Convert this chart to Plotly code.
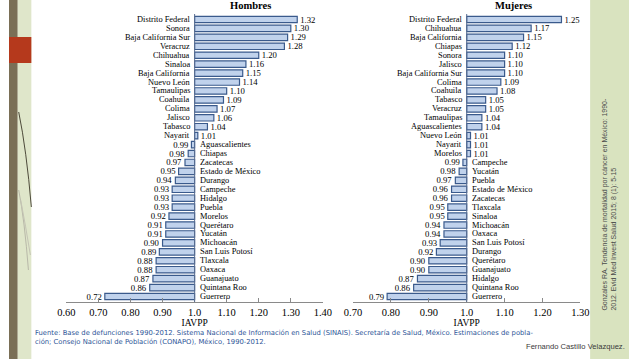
import plotly.graph_objects as go

# ---------------- data ----------------
hombres_estados = ["Distrito Federal", "Sonora", "Baja California Sur", "Veracruz", "Chihuahua",
                   "Sinaloa", "Baja California", "Nuevo León", "Tamaulipas", "Coahuila", "Colima",
                   "Jalisco", "Tabasco", "Nayarit", "Aguascalientes", "Chiapas", "Zacatecas",
                   "Estado de México", "Durango", "Campeche", "Hidalgo", "Puebla", "Morelos",
                   "Querétaro", "Yucatán", "Michoacán", "San Luis Potosí", "Tlaxcala", "Oaxaca",
                   "Guanajuato", "Quintana Roo", "Guerrero"]
hombres_iavpp = [1.32, 1.30, 1.29, 1.28, 1.20, 1.16, 1.15, 1.14, 1.10, 1.09, 1.07, 1.06, 1.04, 1.01,
                 0.99, 0.98, 0.97, 0.95, 0.94, 0.93, 0.93, 0.93, 0.92, 0.91, 0.91, 0.90, 0.89, 0.88,
                 0.88, 0.87, 0.86, 0.72]

mujeres_estados = ["Distrito Federal", "Chihuahua", "Baja California", "Chiapas", "Sonora", "Jalisco",
                   "Baja California Sur", "Colima", "Coahuila", "Tabasco", "Veracruz", "Tamaulipas",
                   "Aguascalientes", "Nuevo León", "Nayarit", "Morelos", "Campeche", "Yucatán",
                   "Puebla", "Estado de México", "Zacatecas", "Tlaxcala", "Sinaloa", "Michoacán",
                   "Oaxaca", "San Luis Potosí", "Durango", "Querétaro", "Guanajuato", "Hidalgo",
                   "Quintana Roo", "Guerrero"]
mujeres_iavpp = [1.25, 1.17, 1.15, 1.12, 1.10, 1.10, 1.10, 1.09, 1.08, 1.05, 1.05, 1.04, 1.04, 1.01,
                 1.01, 1.01, 0.99, 0.98, 0.97, 0.96, 0.96, 0.95, 0.95, 0.94, 0.94, 0.93, 0.92, 0.90,
                 0.90, 0.87, 0.86, 0.79]

hombres_ticks = [0.60, 0.70, 0.80, 0.90, 1.0, 1.10, 1.20, 1.30, 1.40]
hombres_ticktext = ["0.60", "0.70", "0.80", "0.90", "1.0", "1.10", "1.20", "1.30", "1.40"]
mujeres_ticks = [0.70, 0.80, 0.90, 1.0, 1.10, 1.20, 1.30]
mujeres_ticktext = ["0.70", "0.80", "0.90", "1.0", "1.10", "1.20", "1.30"]

BASE = 1.0
W, H = 638, 359

SERIF = "Liberation Serif"
BAR_FILL = "#c0d2ec"
BAR_LINE = "#3a5a8c"
TXT = "#000000"
LABEL_SIZE = 8.4


def px(x):
    return x / W


def py(y):
    return 1 - y / H


fig = go.Figure()

panels = [
    (hombres_estados, hombres_iavpp, "x", "y"),
    (mujeres_estados, mujeres_iavpp, "x2", "y2"),
]

annotations = []
for estados, vals, xa, ya in panels:
    fig.add_trace(go.Bar(
        y=estados,
        x=[v - BASE for v in vals],
        base=BASE,
        orientation="h",
        xaxis=xa, yaxis=ya,
        marker=dict(color=BAR_FILL, line=dict(color=BAR_LINE, width=1.2)),
        text=[f"{v:.2f}" for v in vals],
        textposition="outside",
        constraintext="none",
        cliponaxis=False,
        textfont=dict(family=SERIF, size=LABEL_SIZE + 0.3, color=TXT),
        showlegend=False,
        hoverinfo="skip",
    ))
    for e, v in zip(estados, vals):
        right = v >= BASE
        annotations.append(dict(
            x=BASE, y=e, xref=xa, yref=ya,
            text=e, showarrow=False,
            xanchor="right" if right else "left",
            xshift=-4 if right else 4,
            borderpad=0,
            font=dict(family=SERIF, size=LABEL_SIZE, color=TXT),
        ))

ydom = [py(302), py(14)]
axis_common = dict(
    showgrid=False, zeroline=False, showline=True, linecolor="#8a8a8a", linewidth=1,
    ticks="inside", ticklen=4, tickcolor="#8a8a8a",
    tickfont=dict(family=SERIF, size=10.5, color=TXT),
    title_font=dict(family=SERIF, size=9.5, color=TXT),
    title_standoff=1,
)
fig.update_layout(
    width=W, height=H, autosize=False,
    margin=dict(l=0, r=0, t=0, b=0),
    paper_bgcolor="white", plot_bgcolor="rgba(0,0,0,0)",
    bargap=0.28,
    xaxis=dict(domain=[px(59), px(323)], range=[0.6, 1.4], tickvals=hombres_ticks,
               ticktext=hombres_ticktext, title_text="IAVPP", anchor="y", **axis_common),
    yaxis=dict(domain=ydom, type="category", categoryorder="array", categoryarray=hombres_estados,
               autorange="reversed", showticklabels=False, showgrid=False, zeroline=False,
               showline=False, anchor="x"),
    xaxis2=dict(domain=[px(354), px(588)], range=[0.7, 1.3], tickvals=mujeres_ticks,
                ticktext=mujeres_ticktext, title_text="IAVPP", anchor="y2", **axis_common),
    yaxis2=dict(domain=ydom, type="category", categoryorder="array", categoryarray=mujeres_estados,
                autorange="reversed", showticklabels=False, showgrid=False, zeroline=False,
                showline=False, anchor="x2"),
)

# titles
annotations.append(dict(x=px(249), y=py(6), xref="paper", yref="paper", xanchor="center",
                        yanchor="middle", text="<b>Hombres</b>",
                        showarrow=False, font=dict(family=SERIF, size=10.5, color=TXT)))
annotations.append(dict(x=px(519), y=py(6), xref="paper", yref="paper", xanchor="center",
                        yanchor="middle", text="<b>Mujeres</b>",
                        showarrow=False, font=dict(family=SERIF, size=10.5, color=TXT)))

# footnote
annotations.append(dict(
    x=px(25), y=py(327), xref="paper", yref="paper", xanchor="left", yanchor="top", align="left",
    text=("Fuente: Base de defunciones 1990-2012. Sistema Nacional de Información en Salud (SINAIS). "
          "Secretaría de Salud, México. Estimaciones de pobla-<br>"
          "ción; Consejo Nacional de Población (CONAPO), México, 1990-2012."),
    showarrow=False, font=dict(family="DejaVu Sans", size=6.8, color="#2d5597"),
))
annotations.append(dict(
    x=px(636), y=py(346), xref="paper", yref="paper", xanchor="right", yanchor="middle",
    text="Fernando Castillo Velazquez.", showarrow=False,
    font=dict(family="Liberation Sans", size=7.6, color="#3a3a3a"),
))
# rotated citation
annotations.append(dict(
    x=px(617), y=py(204), xref="paper", yref="paper", xanchor="center", yanchor="middle",
    textangle=-90, align="left",
    text=("Gonzales RA. Tendencia de mortalidad por cáncer en México: 1990-<br>"
          "2012. Evid Med Invest Salud 2015; 8 (1): 5-15"),
    showarrow=False, font=dict(family="Liberation Sans", size=7, color="#4a4a4a"),
))
fig.update_layout(annotations=annotations)

shapes = [
    # baseline at 1.0 for both panels
    dict(type="line", xref="x", yref="y domain", x0=BASE, x1=BASE, y0=0, y1=1,
         line=dict(color="#5a6f93", width=1)),
    dict(type="line", xref="x2", yref="y2 domain", x0=BASE, x1=BASE, y0=0, y1=1,
         line=dict(color="#5a6f93", width=1)),
    # right green panel
    dict(type="rect", xref="paper", yref="paper", x0=px(598), x1=1, y0=0, y1=1,
         fillcolor="#d9e3bf", line=dict(width=0), layer="below"),
    # left decoration
    dict(type="rect", xref="paper", yref="paper", x0=0, x1=px(9), y0=0, y1=1,
         fillcolor="#7a6f56", line=dict(width=0), layer="below"),
    dict(type="rect", xref="paper", yref="paper", x0=px(9), x1=px(23), y0=0, y1=1,
         fillcolor="#dfe6ca", line=dict(width=0), layer="below"),
    dict(type="rect", xref="paper", yref="paper", x0=0, x1=px(23), y0=py(63), y1=py(37),
         fillcolor="#b5391c", line=dict(width=0), layer="below"),
    dict(type="path", xref="paper", yref="paper",
         path=f"M {px(10)} {py(112)} Q {px(18)} {py(150)} {px(23)} {py(207)}",
         line=dict(color="#4d4a3a", width=1)),
    dict(type="path", xref="paper", yref="paper",
         path=f"M {px(10)} {py(190)} Q {px(16)} {py(220)} {px(20)} {py(270)}",
         line=dict(color="#b8b8a8", width=1)),
    dict(type="path", xref="paper", yref="paper",
         path=f"M {px(12)} {py(200)} Q {px(17)} {py(225)} {px(22)} {py(255)}",
         line=dict(color="#c4c4b4", width=1)),
]
fig.update_layout(shapes=shapes)

fig.write_html("out.html", config={"displayModeBar": False},
               post_script="document.body.style.margin='0';")
